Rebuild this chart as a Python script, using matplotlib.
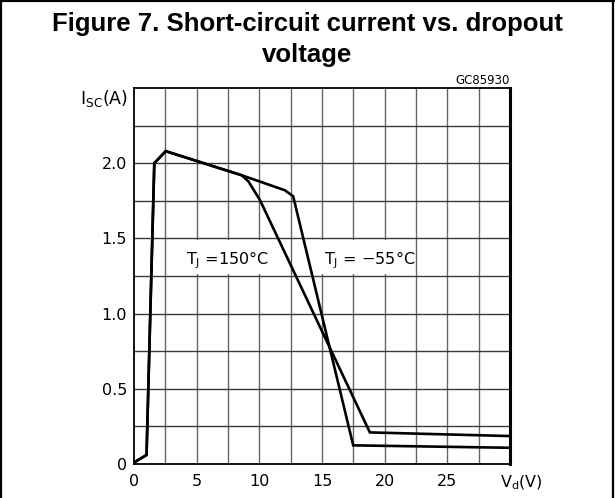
import matplotlib
matplotlib.use("Agg")
import matplotlib.pyplot as plt
from matplotlib.lines import Line2D
from matplotlib.patches import Rectangle
import numpy as np

# ---- data ----
v_150 = [0.0, 1.0, 1.62, 2.53, 8.59, 9.12, 10.05, 18.82, 29.9]
i_150 = [0.01, 0.06, 2.0, 2.08, 1.92, 1.88, 1.755, 0.21, 0.186]
v_m55 = [0.0, 1.0, 1.62, 2.53, 8.59, 12.04, 12.7, 17.49, 29.9]
i_m55 = [0.01, 0.06, 2.0, 2.08, 1.92, 1.82, 1.78, 0.124, 0.108]

x_ticks = [0, 5, 10, 15, 20, 25]
x_ticklabels = ["0", "5", "10", "15", "20", "25"]
y_ticks = [0, 0.5, 1.0, 1.5, 2.0]
y_ticklabels = ["0", "0.5", "1.0", "1.5", "2.0"]

title_line1 = "Figure 7. Short-circuit current vs. dropout"
title_line2 = "voltage"
code_label = "GC85930"
label_150 = r"$\mathregular{T_J}$ =150°C"
label_m55 = r"$\mathregular{T_J}$ = −55°C"

W, H = 615, 498
fig = plt.figure(figsize=(W / 100, H / 100), dpi=100)
plt.rcParams["font.family"] = ["DejaVu Sans"]

ax = fig.add_axes([134 / W, 34 / H, 376 / W, 376 / H])
ax.set_xlim(0, 30)
ax.set_ylim(0, 2.5)

# grid
for gx in np.arange(2.5, 30, 2.5):
    ax.axvline(gx, color="#666666", lw=1.0, zorder=1)
for gy in np.arange(0.25, 2.5, 0.25):
    ax.axhline(gy, color="#3a3a3a", lw=1.0, zorder=1)

# white label backgrounds (hide grid behind labels)
ax.add_patch(Rectangle((3.6, 1.262), 7.6, 0.226, facecolor="white",
                       edgecolor="none", zorder=2))
ax.add_patch(Rectangle((14.8, 1.262), 7.2, 0.226, facecolor="white",
                       edgecolor="none", zorder=2))

ax.plot(v_150, i_150, color="black", lw=1.9, zorder=4, solid_joinstyle="miter")
ax.plot(v_m55, i_m55, color="black", lw=1.9, zorder=4, solid_joinstyle="miter")

ax.text(7.5, 1.356, label_150, ha="center", va="center", fontsize=11.5, zorder=3)
ax.text(18.8, 1.356, label_m55, ha="center", va="center", fontsize=11.5, zorder=3)

ax.set_xticks(x_ticks)
ax.set_xticklabels(x_ticklabels)
ax.set_yticks(y_ticks)
ax.set_yticklabels(y_ticklabels)
ax.tick_params(axis="both", length=0, labelsize=11.5)
ax.tick_params(axis="x", pad=7.5)
ax.tick_params(axis="y", pad=5)

for s in ["left", "bottom", "top"]:
    ax.spines[s].set_linewidth(1.3)
ax.spines["right"].set_linewidth(2.2)

ax.text(-0.016, 2.43, r"$\mathregular{I_{SC}(A)}$", ha="right", va="center",
        fontsize=12.5, transform=ax.get_yaxis_transform())
ax.text(30.9, -0.05, r"$\mathregular{V_d(V)}$", ha="center", va="center",
        fontsize=11.5, transform=ax.get_xaxis_transform())

fig.text(0.5, 1 - 24 / H, title_line1, ha="center", va="center",
         fontsize=18.5, fontweight="bold", family="Liberation Sans")
fig.text(0.5, 1 - 55 / H, title_line2, ha="center", va="center",
         fontsize=18.5, fontweight="bold", family="Liberation Sans")
fig.text(510 / W, 1 - 81 / H, code_label, ha="right", va="center", fontsize=8.5)

# outer frame
fig.add_artist(Line2D([1 / W, 1 / W], [0, 1], color="black", lw=1.6,
                      transform=fig.transFigure))
fig.add_artist(Line2D([0, 1], [1 - 1 / H, 1 - 1 / H], color="black", lw=1.6,
                      transform=fig.transFigure))
fig.add_artist(Line2D([613 / W, 613 / W], [0, 1], color="black", lw=1.6,
                      transform=fig.transFigure))

fig.savefig("out.png", dpi=100)
